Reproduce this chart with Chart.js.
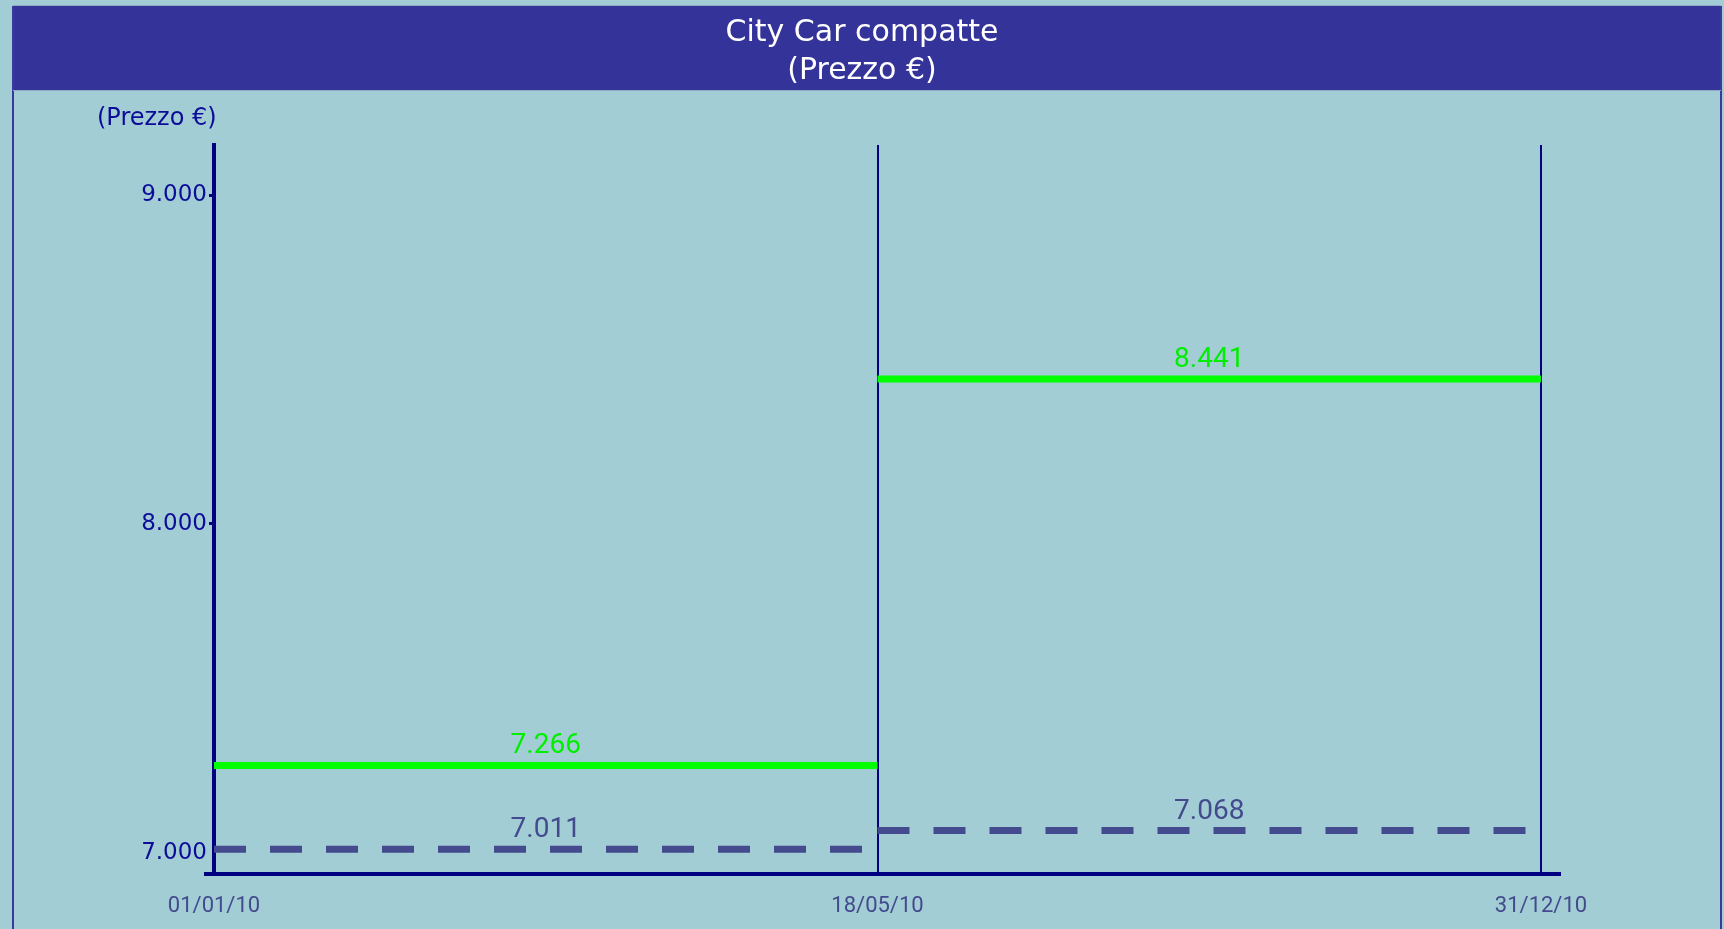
<!DOCTYPE html>
<html>
<head>
<meta charset="utf-8">
<script src="https://cdn.jsdelivr.net/npm/chart.js@4/dist/chart.umd.min.js"></script>
<style>
  html, body { margin: 0; padding: 0; background: #a2cdd4; overflow: hidden; }
  #c { display: block; }
</style>
</head>
<body>
<canvas id="c" width="1724" height="929"></canvas>
<script>
// ---- data ----
const dateLabels = ['01/01/10', '18/05/10', '31/12/10'];
const prezzoAlto = [7266, 8441];   // green solid
const prezzoBasso = [7011, 7068];  // dashed
const yTickValues = [7000, 8000, 9000];
const titleLines = ['City Car compatte', '(Prezzo €)'];
const yAxisTitle = '(Prezzo €)';

function fmt(v) { return String(v).replace(/\B(?=(\d{3})+(?!\d))/g, '.'); }

function stepData(values) {
  const pts = [];
  values.forEach((v, i) => {
    pts.push({x: i, y: v});
    pts.push({x: i + 1, y: v});
    pts.push({x: i + 1, y: null});
  });
  return pts;
}

const NAVY = '#000080';

const framePlugin = {
  id: 'frame',
  beforeDraw(chart) {
    const ctx = chart.ctx;
    const W = chart.width, H = chart.height;
    ctx.save();
    ctx.fillStyle = '#a2cdd4';
    ctx.fillRect(0, 0, W, H);
    ctx.fillStyle = '#343399';
    ctx.fillRect(13, 6, W - 15, 84);
    ctx.strokeStyle = '#3a3a9e';
    ctx.lineWidth = 2;
    ctx.beginPath();
    ctx.moveTo(13, 6); ctx.lineTo(13, H);
    ctx.moveTo(W - 3, 6); ctx.lineTo(W - 3, H);
    ctx.stroke();
    ctx.strokeStyle = '#8fa9c0';
    ctx.lineWidth = 1;
    ctx.beginPath();
    ctx.moveTo(13, 5.5); ctx.lineTo(W - 3, 5.5);
    ctx.moveTo(13, 90.5); ctx.lineTo(W - 3, 90.5);
    ctx.stroke();
    ctx.restore();
  },
  afterDatasetsDraw(chart) {
    const ctx = chart.ctx;
    const xs = chart.scales.x, ys = chart.scales.y;
    const area = chart.chartArea;
    ctx.save();
    // data labels
    ctx.font = '28px Roboto';
    ctx.textAlign = 'center';
    ctx.textBaseline = 'middle';
    chart.data.datasets.forEach(ds => {
      ds.values.forEach((v, i) => {
        ctx.fillStyle = ds.labelColor;
        ctx.fillText(fmt(v), xs.getPixelForValue(i + 0.5), ys.getPixelForValue(v) - 19);
      });
    });
    // x axis line (extends past the plot area)
    ctx.strokeStyle = NAVY;
    ctx.lineWidth = 4;
    ctx.beginPath();
    ctx.moveTo(area.left - 10, area.bottom);
    ctx.lineTo(area.right + 20, area.bottom);
    ctx.stroke();
    // y axis title
    ctx.font = '24px "DejaVu Sans"';
    ctx.fillStyle = '#0c0c98';
    ctx.textAlign = 'left';
    ctx.fillText(yAxisTitle, 97, 119);
    ctx.restore();
  }
};

new Chart(document.getElementById('c'), {
  type: 'line',
  data: {
    datasets: [
      {
        label: 'alto',
        values: prezzoAlto,
        data: stepData(prezzoAlto),
        borderColor: '#00ff00',
        labelColor: '#00ee00',
        borderWidth: 7,
        borderCapStyle: 'butt',
        pointRadius: 0,
        spanGaps: false,
        tension: 0
      },
      {
        label: 'basso',
        values: prezzoBasso,
        data: stepData(prezzoBasso),
        borderColor: '#434a8d',
        labelColor: '#434a8d',
        borderWidth: 7,
        borderDash: [32, 24],
        borderCapStyle: 'butt',
        pointRadius: 0,
        spanGaps: false,
        tension: 0
      }
    ]
  },
  options: {
    responsive: false,
    animation: false,
    devicePixelRatio: 1,
    layout: { padding: 0 },
    plugins: {
      legend: { display: false },
      tooltip: { enabled: false },
      title: {
        display: true,
        text: titleLines,
        color: '#ffffff',
        font: { family: '"DejaVu Sans"', size: 30, weight: 'normal', lineHeight: 1.28 },
        padding: { top: 14, bottom: 54.2 }
      }
    },
    scales: {
      x: {
        type: 'linear',
        min: 0,
        max: dateLabels.length - 1,
        afterBuildTicks(scale) { scale.ticks = dateLabels.map((_, i) => ({ value: i })); },
        afterFit(scale) { scale.height = 55; },
        ticks: {
          callback: v => dateLabels[v],
          color: '#434a8d',
          font: { family: 'Roboto', size: 22 },
          padding: 19,
          maxRotation: 0,
          autoSkip: false
        },
        grid: {
          display: true,
          drawOnChartArea: true,
          drawTicks: false,
          color: NAVY,
          lineWidth: 2
        },
        border: { display: false }
      },
      y: {
        type: 'linear',
        min: 6936,
        max: 9152,
        afterBuildTicks(scale) { scale.ticks = yTickValues.map(v => ({ value: v })); },
        afterFit(scale) { scale.width = 214; },
        ticks: {
          callback: v => fmt(v),
          color: '#0c0c98',
          font: { family: '"DejaVu Sans"', size: 23 },
          padding: 2
        },
        grid: {
          drawOnChartArea: false,
          drawTicks: true,
          tickLength: 5,
          tickWidth: 3,
          tickColor: ctx => (ctx.tick && ctx.tick.value === 7000) ? 'rgba(0,0,0,0)' : NAVY
        },
        border: { display: true, color: NAVY, width: 4 }
      },
      spacer: {
        type: 'linear',
        position: 'right',
        display: true,
        afterFit(scale) { scale.width = 183; },
        ticks: { display: false },
        grid: { display: false, drawTicks: false },
        border: { display: false }
      }
    }
  },
  plugins: [framePlugin]
});
</script>
</body>
</html>
